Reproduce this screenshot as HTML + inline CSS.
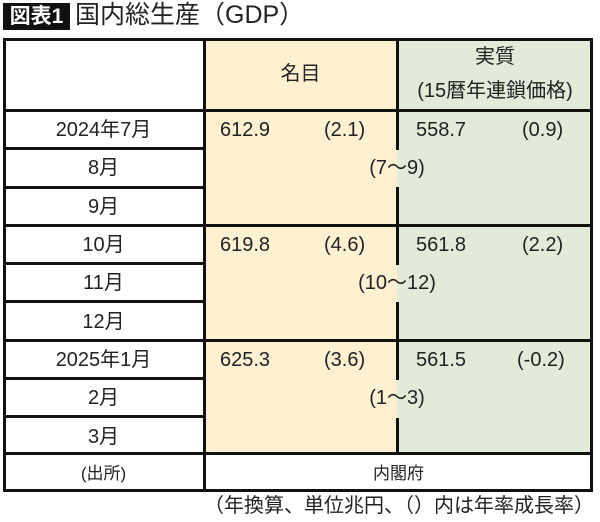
<!DOCTYPE html>
<html><head><meta charset="utf-8"><style>
body{margin:0;width:600px;height:522px;background:#fff;font-family:"Liberation Sans Narrow","Liberation Sans","Noto Sans CJK JP",sans-serif;color:#222;position:relative;overflow:hidden}
div{position:absolute;box-sizing:border-box}
.t{font-size:20px;line-height:24px;white-space:nowrap}
.c{text-align:center}
.h{background:#111}
</style></head><body>
<div style="left:3px;top:3px;width:67px;height:27px;background:#111;color:#fff;font-size:21px;line-height:27px;text-align:center;font-weight:bold">図表1</div>
<div style="left:75px;top:0px;font-size:25px;line-height:30px;white-space:nowrap">国内総生産（GDP）</div>

<div style="left:204px;top:38px;width:193px;height:415px;background:#fdf1d2"></div>
<div style="left:397px;top:38px;width:196px;height:415px;background:#e1ebd8"></div>

<div style="left:3px;top:38px;width:590px;height:454px;border:3px solid #111"></div>
<div class="h" style="left:203px;top:38px;width:3px;height:454px"></div>
<div class="h" style="left:396px;top:38px;width:3px;height:112px"></div>
<div class="h" style="left:396px;top:187px;width:3px;height:78px"></div>
<div class="h" style="left:396px;top:302px;width:3px;height:78px"></div>
<div class="h" style="left:396px;top:418px;width:3px;height:35px"></div>
<div class="h" style="left:3px;top:109px;width:590px;height:3px"></div>
<div class="h" style="left:3px;top:224px;width:590px;height:3px"></div>
<div class="h" style="left:3px;top:339px;width:590px;height:3px"></div>
<div class="h" style="left:3px;top:452px;width:590px;height:3px"></div>
<div class="h" style="left:3px;top:147px;width:201px;height:3px"></div>
<div class="h" style="left:3px;top:186px;width:201px;height:3px"></div>
<div class="h" style="left:3px;top:262px;width:201px;height:3px"></div>
<div class="h" style="left:3px;top:300px;width:201px;height:3px"></div>
<div class="h" style="left:3px;top:377px;width:201px;height:3px"></div>
<div class="h" style="left:3px;top:415px;width:201px;height:3px"></div>

<div class="t c" style="left:204px;top:62px;width:193px">名目</div>
<div class="t c" style="left:397px;top:45px;width:196px">実質</div>
<div class="t c" style="left:397px;top:79px;width:196px">(15暦年連鎖価格)</div>

<div class="t c" style="left:3px;top:118px;width:201px">2024年7月</div>
<div class="t c" style="left:3px;top:156px;width:201px">8月</div>
<div class="t c" style="left:3px;top:195px;width:201px">9月</div>
<div class="t c" style="left:3px;top:233px;width:201px">10月</div>
<div class="t c" style="left:3px;top:271px;width:201px">11月</div>
<div class="t c" style="left:3px;top:310px;width:201px">12月</div>
<div class="t c" style="left:3px;top:348px;width:201px">2025年1月</div>
<div class="t c" style="left:3px;top:386px;width:201px">2月</div>
<div class="t c" style="left:3px;top:425px;width:201px">3月</div>

<div class="t" style="left:220px;top:118px">612.9</div>
<div class="t" style="left:324px;top:118px">(2.1)</div>
<div class="t" style="left:416px;top:118px">558.7</div>
<div class="t" style="left:522px;top:118px">(0.9)</div>
<div class="t c" style="left:297px;top:156px;width:200px">(7～9)</div>

<div class="t" style="left:220px;top:233px">619.8</div>
<div class="t" style="left:324px;top:233px">(4.6)</div>
<div class="t" style="left:416px;top:233px">561.8</div>
<div class="t" style="left:522px;top:233px">(2.2)</div>
<div class="t c" style="left:297px;top:271px;width:200px">(10～12)</div>

<div class="t" style="left:220px;top:348px">625.3</div>
<div class="t" style="left:324px;top:348px">(3.6)</div>
<div class="t" style="left:416px;top:348px">561.5</div>
<div class="t" style="left:517px;top:348px">(-0.2)</div>
<div class="t c" style="left:297px;top:386px;width:200px">(1～3)</div>

<div class="t c" style="left:3px;top:462px;width:201px;font-size:17px">(出所)</div>
<div class="t c" style="left:204px;top:462px;width:389px;font-size:17px">内閣府</div>
<div class="t" style="right:6px;top:494px;font-size:20px">（年換算、単位兆円、（）内は年率成長率）</div>
</body></html>
